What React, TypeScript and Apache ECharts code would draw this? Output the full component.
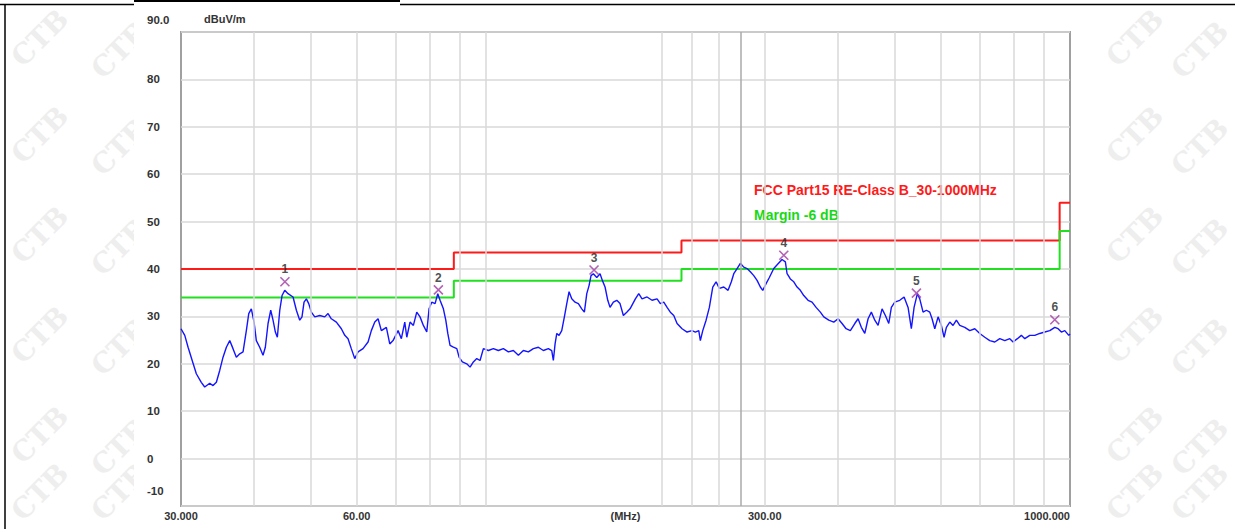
import React, { useEffect, useRef } from 'react';
import * as echarts from 'echarts';

// ---- Data (MHz, dBuV/m) ----
const traceLow: [number, number][] = [
  [30.0, 27.4], [30.45, 26.0], [30.85, 23.5], [31.46, 20.1], [31.87, 17.9], [32.5, 16.1], [32.94, 15.1], [33.6, 15.9],
  [34.04, 15.4], [34.49, 16.1], [34.95, 18.6], [35.41, 21.4], [35.88, 23.5], [36.36, 24.9], [36.83, 23.2], [37.32, 21.4],
  [37.82, 22.1], [38.32, 22.5], [38.82, 27.0], [39.19, 30.6], [39.59, 31.6], [40.02, 28.8], [40.38, 24.9], [40.92, 23.5],
  [41.46, 21.8], [41.84, 23.5], [42.29, 28.5], [42.74, 31.3], [43.13, 29.2], [43.53, 26.7], [43.87, 25.6], [44.29, 31.3],
  [44.69, 34.4], [45.17, 35.5], [45.76, 34.8], [46.67, 34.1], [47.29, 31.3], [47.92, 29.2], [48.35, 29.9], [48.74, 33.0],
  [49.19, 33.7], [49.65, 32.7], [50.16, 30.9], [50.85, 29.9], [51.86, 30.2], [52.89, 29.9], [53.58, 30.6], [54.28, 29.5],
  [55.37, 28.8], [56.47, 27.4], [57.24, 26.0], [57.98, 25.3], [58.73, 23.2], [59.53, 21.1], [60.31, 22.5], [61.51, 23.2],
  [62.74, 24.6], [63.56, 27.0], [64.43, 28.8], [65.27, 29.5], [66.12, 27.0], [67.44, 27.7], [68.35, 24.2], [69.24, 24.9],
  [70.63, 27.0], [71.55, 25.3], [72.52, 28.8],
];
const traceMid: [number, number][] = [
  [73.1, 25.6], [74.04, 28.8], [75.02, 28.1], [76.03, 30.9], [77.02, 29.9], [78.04, 28.1], [79.09, 26.7], [79.81, 31.6],
  [80.66, 33.0], [81.73, 32.7], [82.6, 34.8], [83.35, 33.4], [84.45, 31.6], [85.25, 29.2], [85.93, 26.4], [86.7, 23.9],
  [87.85, 23.5], [89.04, 23.2], [89.84, 21.4], [91.01, 20.4], [92.61, 20.0], [93.82, 19.3], [95.05, 20.4], [96.34, 21.1],
  [97.59, 20.7], [98.88, 23.2], [100.85, 22.8], [102.85, 23.2], [104.9, 22.8], [106.99, 23.2], [109.13, 22.5], [111.3, 22.8],
  [113.51, 21.8], [115.77, 22.8], [118.08, 22.5], [120.43, 23.2], [122.83, 23.5], [125.28, 22.8], [127.77, 23.2], [129.48, 22.8],
  [130.31, 20.7], [131.2, 24.2], [132.08, 26.4], [133.27, 26.0], [134.69, 27.0], [136.1, 29.9], [137.39, 32.7], [138.64, 35.2],
  [140.11, 33.7], [141.97, 33.0], [143.82, 32.7], [145.75, 31.6], [147.27, 30.9], [148.67, 34.8], [150.01, 36.5], [151.18, 38.6],
  [152.58, 39.0], [154.65, 38.2], [156.65, 39.0], [158.08, 37.6], [159.79, 36.2], [161.5, 33.4], [162.96, 31.9], [165.1, 33.0],
  [167.34, 33.4], [169.51, 32.7], [171.75, 30.2], [174.07, 30.9], [176.34, 31.6],
];
const traceHigh: [number, number][] = [
  [180.08, 33.7], [182.5, 34.8], [184.88, 33.7], [188.59, 34.1], [192.32, 33.4], [196.18, 33.7], [198.72, 32.7], [201.43, 33.0],
  [204.07, 31.9], [206.72, 30.9], [209.53, 30.2], [212.28, 28.5], [216.49, 27.4], [220.82, 26.7], [225.19, 27.0], [228.17, 26.7],
  [231.24, 27.0], [232.69, 24.9], [234.91, 27.0], [238.01, 29.2], [241.11, 31.9], [244.36, 36.2], [247.59, 37.3], [250.81, 35.9],
  [255.21, 36.2], [259.58, 35.5], [262.95, 37.3], [265.48, 39.0], [268.97, 40.1], [272.45, 41.2], [276.16, 40.4], [279.78, 40.1],
  [283.41, 39.4], [287.27, 38.6], [291.04, 37.6], [294.82, 36.2], [297.64, 35.5], [301.57, 36.9], [305.49, 38.2], [310.85, 40.1],
  [316.17, 41.1], [321.17, 42.0], [325.41, 41.5], [327.6, 39.0], [331.85, 37.9], [336.37, 37.3], [340.78, 36.2], [345.2, 35.5],
  [349.9, 34.4], [355.89, 33.4], [361.52, 33.0], [367.32, 31.9], [373.55, 30.9], [378.63, 29.9], [386.16, 29.2], [393.86, 28.8],
  [400.6, 29.5], [406.93, 28.5], [413.46, 27.4], [420.47, 27.0], [427.89, 28.5],
];
const traceTop: [number, number][] = [
  [433.48, 29.5], [439.1, 27.7], [445.1, 26.4], [450.93, 29.5], [456.77, 30.9], [463.01, 29.2], [469.07, 28.1], [476.48, 31.6],
  [482.78, 30.2], [489.28, 28.5], [494.27, 31.9], [501.02, 33.0], [510.95, 33.4], [519.73, 34.1], [527.99, 31.9], [534.83, 27.4],
  [540.64, 31.9], [547.73, 34.8], [552.89, 33.7], [560.15, 30.9], [567.53, 31.3], [575.13, 30.9], [580.37, 29.5], [586.65, 27.4],
  [594.32, 29.9], [602.03, 28.1], [608.56, 25.6], [614.12, 27.7], [622.35, 28.8], [630.52, 28.1], [638.83, 29.2], [647.39, 28.1],
  [660.35, 27.7], [673.44, 27.0], [686.92, 27.4], [700.53, 26.4], [714.55, 25.6], [728.72, 24.9], [743.3, 24.6], [758.04, 25.3],
  [773.21, 24.9], [788.54, 25.3], [798.9, 24.6], [812.61, 25.3], [825.41, 26.0], [836.68, 25.3], [853.27, 26.0], [870.35, 26.0],
  [887.6, 26.4], [905.36, 26.7], [923.31, 27.0], [941.79, 27.7], [954.11, 27.4], [966.48, 26.7], [979.68, 27.0], [995.22, 26.0],
  [1000, 26.3],
];

const limitFreq = [30, 88, 88, 216, 216, 960, 960, 1000];
const limitLevel = [40, 40, 43.5, 43.5, 46, 46, 54, 54];
const marginLevel = [34, 34, 37.5, 37.5, 40, 40, 48, 48];

const markerFreq = [45.2, 82.8, 153.0, 323.4, 545.6, 941.8];
const markerLevel = [37.3, 35.6, 39.8, 42.9, 34.9, 29.3];
const markerLabels = ['1', '2', '3', '4', '5', '6'];

const xTickValues = [30, 60, 300, 1000];
const xTickLabels = ['30.000', '60.00', '300.00', '1000.000'];
const yTickValues = [-10, 0, 10, 20, 30, 40, 50, 60, 70, 80, 90];
const yTickLabels = ['-10', '0', '10', '20', '30', '40', '50', '60', '70', '80', '90.0'];
const vGridFreq = [40, 50, 60, 70, 80, 90, 100, 200, 225, 250, 300, 400, 500, 600, 700, 800, 900];
const vDarkFreq = [273];

const limitName = 'FCC Part15 RE-Class B_30-1000MHz';
const marginName = 'Margin -6 dB';
const yUnit = 'dBuV/m';
const xUnit = '(MHz)';
const watermark = 'CTB';

const FONT = '"Liberation Sans", Arial, sans-serif';

export default function App() {
  const ref = useRef<HTMLDivElement>(null);

  useEffect(() => {
    if (!ref.current) return;
    const chart = echarts.init(ref.current, null, { renderer: 'svg', width: 1235, height: 529 });

    const trace = [...traceLow, ...traceMid, ...traceHigh, ...traceTop];
    const limit = limitFreq.map((f, i) => [f, limitLevel[i]]);
    const margin = limitFreq.map((f, i) => [f, marginLevel[i]]);
    const markers = markerFreq.map((f, i) => [f, markerLevel[i]]);

    const wmCols = [40, 120, 1135, 1200];
    const wmRows = [38, 135, 235, 335, 435, 492];
    const wmEls: any[] = [];
    wmCols.forEach((cx, ci) => {
      wmRows.forEach((cy) => {
        wmEls.push({
          type: 'text',
          x: cx,
          y: cy + (ci % 2 === 1 && cy < 480 ? 12 : 0),
          rotation: Math.PI / 4,
          z: -100,
          silent: true,
          style: {
            text: watermark,
            fill: '#eeeeee',
            fontSize: 28,
            fontWeight: 'bold',
            fontFamily: '"DejaVu Serif", "Liberation Serif", serif',
            align: 'center',
            verticalAlign: 'middle',
          },
        });
      });
    });

    const option: any = {
      animation: false,
      backgroundColor: '#ffffff',
      grid: {
        left: 181,
        top: 32,
        right: 165,
        bottom: 23,
        show: true,
        backgroundColor: '#ffffff',
        borderColor: '#a0a0a0',
        borderWidth: 2,
        containLabel: false,
        outerBoundsMode: 'none',
      },
      legend: {
        show: true,
        orient: 'vertical',
        left: 744,
        top: 178,
        itemWidth: 0,
        itemHeight: 0,
        itemGap: 11,
        icon: 'rect',
        selectedMode: false,
        textStyle: { fontSize: 14, fontWeight: 'bold', fontFamily: FONT },
        data: [
          { name: limitName, textStyle: { color: '#ff1a1a' } },
          { name: marginName, textStyle: { color: '#18d818' } },
        ],
      },
      xAxis: {
        type: 'log',
        logBase: 10,
        min: 30,
        max: 1000,
        name: xUnit,
        nameLocation: 'middle',
        nameGap: 4,
        nameMoveOverlap: false,
        nameTextStyle: { fontSize: 11, fontWeight: 'bold', color: '#333', fontFamily: FONT, verticalAlign: 'top' },
        axisLine: { show: false },
        axisTick: { show: false },
        splitLine: { show: false },
        minorSplitLine: { show: false },
        axisLabel: {
          customValues: xTickValues,
          margin: 4,
          fontSize: 11,
          fontWeight: 'bold',
          color: '#333',
          fontFamily: FONT,
          alignMinLabel: 'center',
          alignMaxLabel: 'right',
          hideOverlap: false,
          formatter: (v: number) => {
            const i = xTickValues.findIndex((t) => Math.abs(t - v) < 1e-6 * t);
            return i >= 0 ? xTickLabels[i] : '';
          },
        },
      },
      yAxis: {
        type: 'value',
        min: -10,
        max: 90,
        interval: 10,
        axisLine: { show: false },
        axisTick: { show: false },
        splitLine: { show: true, lineStyle: { color: '#d9d9d9', width: 1.5 } },
        axisLabel: {
          align: 'left',
          margin: 34,
          fontSize: 11.5,
          fontWeight: 'bold',
          color: '#333',
          fontFamily: FONT,
          formatter: (v: number) => {
            const i = yTickValues.indexOf(v);
            const s = i >= 0 ? yTickLabels[i] : '';
            if (v === 90) return `{top|${s}}`;
            if (v === -10) return `{bot|${s}}`;
            return `{n|${s}}`;
          },
          rich: {
            n: { fontSize: 11.5, fontWeight: 'bold', color: '#333', fontFamily: FONT },
            top: { fontSize: 11.5, fontWeight: 'bold', color: '#333', fontFamily: FONT, padding: [0, 0, 24, 0] },
            bot: { fontSize: 11.5, fontWeight: 'bold', color: '#333', fontFamily: FONT, padding: [0, 0, 30, 0] },
          },
        },
      },
      graphic: [
        ...wmEls,
        { type: 'rect', z: -90, silent: true, shape: { x: 134, y: 0, width: 973, height: 529 }, style: { fill: '#ffffff' } },
        { type: 'line', z: 10, silent: true, shape: { x1: 0, y1: 4.5, x2: 134, y2: 4.5 }, style: { stroke: '#000', lineWidth: 1.5 } },
        { type: 'line', z: 10, silent: true, shape: { x1: 134, y1: 1, x2: 400, y2: 1 }, style: { stroke: '#000', lineWidth: 2 } },
        { type: 'line', z: 10, silent: true, shape: { x1: 400, y1: 4.5, x2: 1235, y2: 4.5 }, style: { stroke: '#000', lineWidth: 1.5 } },
        { type: 'line', z: 10, silent: true, shape: { x1: 5, y1: 4, x2: 5, y2: 529 }, style: { stroke: '#000', lineWidth: 1.5 } },
        {
          type: 'text', z: 10, silent: true, x: 204, y: 13,
          style: { text: yUnit, fill: '#333', fontSize: 11, fontWeight: 'bold', fontFamily: FONT, align: 'left', verticalAlign: 'top' },
        },
      ],
      series: [
        {
          name: 'grid',
          type: 'line',
          z: 1,
          data: [[30, -10]],
          symbol: 'none',
          lineStyle: { opacity: 0 },
          silent: true,
          markLine: {
            silent: true,
            symbol: ['none', 'none'],
            animation: false,
            label: { show: false },
            lineStyle: { type: 'solid', color: '#d9d9d9', width: 1.5 },
            data: [
              ...vGridFreq.map((f) => ({ xAxis: f })),
              ...vDarkFreq.map((f) => ({ xAxis: f, lineStyle: { type: 'solid', color: '#aaaaaa', width: 1.5 } })),
            ],
          },
        },
        {
          name: limitName,
          type: 'line',
          z: 3,
          data: limit,
          symbol: 'none',
          color: '#ff1a1a',
          lineStyle: { color: '#ff1a1a', width: 2 },
          silent: true,
        },
        {
          name: marginName,
          type: 'line',
          z: 3,
          data: margin,
          symbol: 'none',
          color: '#18d818',
          lineStyle: { color: '#20e020', width: 2 },
          silent: true,
        },
        {
          name: 'trace',
          type: 'line',
          z: 4,
          data: trace,
          symbol: 'none',
          lineStyle: { color: '#1414ff', width: 1.4 },
          silent: true,
        },
        {
          name: 'markers',
          type: 'scatter',
          z: 5,
          data: markers,
          symbol: 'path://M0,0L10,10M10,0L0,10',
          symbolSize: 9,
          itemStyle: { color: 'rgba(0,0,0,0)', borderColor: '#a03ca0', borderWidth: 1.6 },
          label: {
            show: true,
            position: 'top',
            distance: 1,
            fontSize: 12,
            fontWeight: 'bold',
            color: '#222',
            fontFamily: FONT,
            formatter: (p: any) => markerLabels[p.dataIndex],
          },
          silent: true,
        },
      ],
    };

    chart.setOption(option);
    return () => chart.dispose();
  }, []);

  return (
    <div
      ref={ref}
      style={{ position: 'absolute', left: 0, top: 0, width: 1235, height: 529, background: '#fff' }}
    />
  );
}
